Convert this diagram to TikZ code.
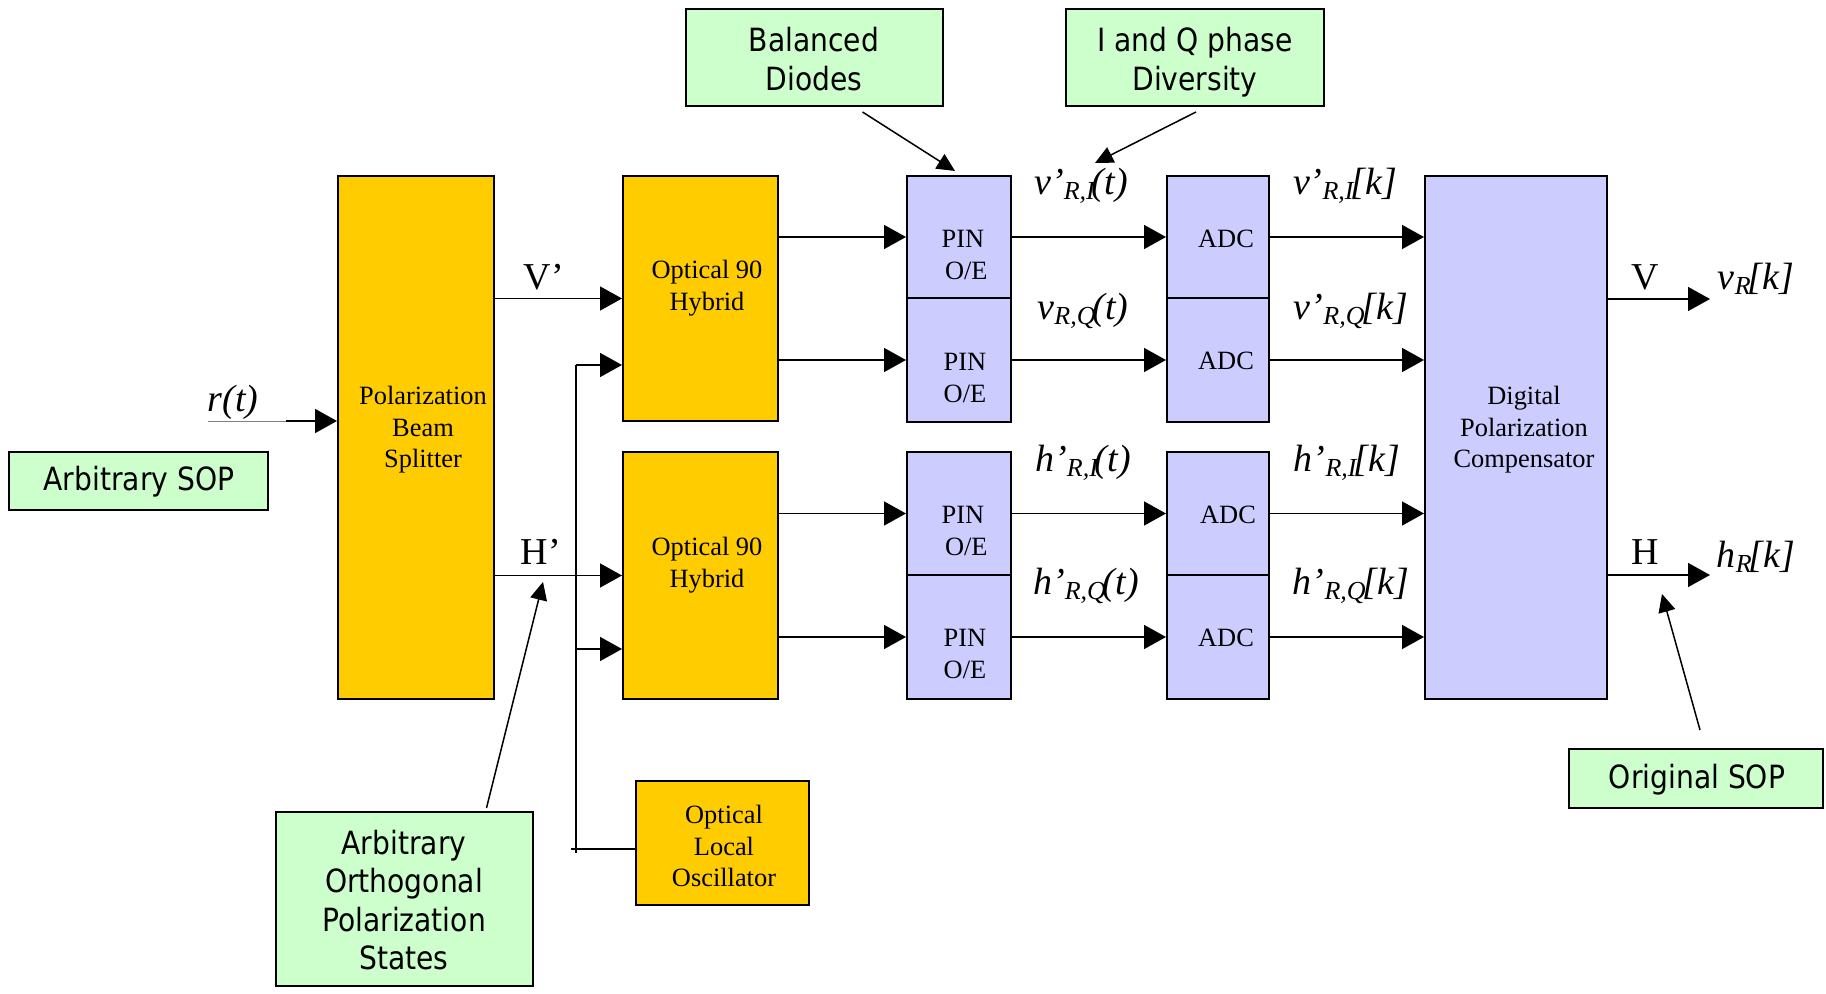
\documentclass[tikz,border=0pt]{standalone}
\usepackage{fontspec}
\setmainfont{Liberation Serif}
\newfontfamily\lab[FakeStretch=0.88]{DejaVu Sans}
\usetikzlibrary{arrows.meta,fit,calc}
\definecolor{ybg}{HTML}{FFCC00}
\definecolor{pbg}{HTML}{CCCCFF}
\definecolor{gbg}{HTML}{CCFFCC}
\newcommand\sg[3]{{\fontsize{19}{19}\selectfont\itshape #1\raisebox{-2.5pt}{\fontsize{13}{13}\selectfont #2}\kern-1.5pt #3}}
\begin{document}
\begin{tikzpicture}[x=0.5pt,y=-0.5pt,
 blk/.style={draw=black, line width=1pt, inner sep=0pt},
 ybox/.style={blk, fill=ybg},
 pbox/.style={blk, fill=pbg},
 gbox/.style={blk, fill=gbg},
 gtxt/.style={font=\lab\fontsize{16}{19.2}\selectfont, align=center, inner sep=0pt},
 txt/.style={font=\fontsize{13.2}{15.7}\selectfont, align=center, inner sep=0pt},
 lbl/.style={inner sep=0pt, font=\fontsize{19}{19}\selectfont},
 arr/.style={line width=0.8pt, -{Triangle[length=11pt,width=12pt]}},
 ptr/.style={line width=0.75pt, -{Triangle[length=9pt,width=8.5pt]}},
 ln/.style={line width=0.8pt}]
\useasboundingbox (0,0) rectangle (1826,994);

% main blocks
\node[ybox, fit={(338,176) (494,699)}] (pbs) {};
\node[ybox, fit={(623,176) (778,421)}] (hyb1) {};
\node[ybox, fit={(623,452) (778,699)}] (hyb2) {};
\node[ybox, fit={(636,781) (809,905)}] (lo) {};
\node[pbox, fit={(907,176) (1011,298)}] (pin1) {};
\node[pbox, fit={(907,298) (1011,422)}] (pin2) {};
\node[pbox, fit={(907,452) (1011,575)}] (pin3) {};
\node[pbox, fit={(907,575) (1011,699)}] (pin4) {};
\node[pbox, fit={(1167,176) (1269,298)}] (adc1) {};
\node[pbox, fit={(1167,298) (1269,422)}] (adc2) {};
\node[pbox, fit={(1167,452) (1269,575)}] (adc3) {};
\node[pbox, fit={(1167,575) (1269,699)}] (adc4) {};
\node[pbox, fit={(1425,176) (1607,699)}] (comp) {};

% texts of blocks
\node[txt] (pbst) at (423,430) {Polarization\\Beam\\Splitter};
\node[txt] (hyb1t) at (707,288) {Optical 90\\Hybrid};
\node[txt] (hyb2t) at (707,565) {Optical 90\\Hybrid};
\node[txt] (lot) at (724,846) {Optical\\Local\\Oscillator};
\node[txt] (pin1t) at (963,255) {PIN\\\ O/E};
\node[txt] (pin2t) at (965,378) {PIN\\O/E};
\node[txt] (pin3t) at (963,531) {PIN\\\ O/E};
\node[txt] (pin4t) at (965,654) {PIN\\O/E};
\node[txt] (adc1t) at (1226,239) {ADC};
\node[txt] (adc2t) at (1226,361) {ADC};
\node[txt] (adc3t) at (1228,515) {ADC};
\node[txt] (adc4t) at (1226,638) {ADC};
\node[txt] (compt) at (1524,430) {Digital\\Polarization\\Compensator};

% green callouts
\node[gbox, fit={(9,452) (268,510)}] (asop) {};
\node[gbox, fit={(276,812) (533,986)}] (aops) {};
\node[gbox, fit={(686,9) (943,106)}] (bd) {};
\node[gbox, fit={(1066,9) (1324,106)}] (iq) {};
\node[gbox, fit={(1569,749) (1823,808)}] (osop) {};
\node[gtxt] (asopt) at (139,482) {Arbitrary SOP};
\node[gtxt] (aopst) at (404,900) {Arbitrary\\Orthogonal\\Polarization\\States};
\node[gtxt] (bdt) at (814,59) {Balanced\\Diodes};
\node[gtxt] (iqt) at (1195,62) {I and Q phase\\Diversity};
\node[gtxt] (osopt) at (1697,780) {Original SOP};

% signal labels
\node[lbl] (rt) at (233,402) {\itshape r(t)};
\node[lbl] (vp) at (544,277) {V’};
\node[lbl] (hp) at (541,552) {H’};
\node[lbl] (vo) at (1645,277) {V};
\node[lbl] (ho) at (1645,552) {H};
\node[lbl] (l1) at (1081,186) {\sg{v’}{R,I}{(t)}};
\node[lbl] (l2) at (1083,311) {\sg{v}{R,Q}{(t)}};
\node[lbl] (l3) at (1083,463) {\sg{h’}{R,I}{(t)}};
\node[lbl] (l4) at (1086,586) {\sg{h’}{R,Q}{(t)}};
\node[lbl] (k1) at (1345,186) {\sg{v’}{R,I}{[k]}};
\node[lbl] (k2) at (1351,311) {\sg{v’}{R,Q}{[k]}};
\node[lbl] (k3) at (1347,463) {\sg{h’}{R,I}{[k]}};
\node[lbl] (k4) at (1351,586) {\sg{h’}{R,Q}{[k]}};
\node[lbl] (vr) at (1756,279) {\sg{v}{R}{[k]}};
\node[lbl] (hr) at (1756,557) {\sg{h}{R}{[k]}};

% input
\coordinate (rin) at (208,421);
\coordinate (rmid) at (286,421);
\draw[gray, line width=0.4pt] (rin) -- (rmid);
\draw[arr] (rmid) -- (rmid -| pbs.west);

% splitter outputs
\draw[arr] (pbs.east |- hyb1.west) -- (hyb1.west);
\draw[arr] (pbs.east |- hyb2.west) -- (hyb2.west);

% local oscillator distribution
\coordinate (lotop) at (576,365);
\coordinate (lomid) at (576,649);
\coordinate (lobot) at (576,853);
\coordinate (lol) at (571,849);
\draw[ln] (lotop) -- (lobot);
\draw[arr] (lotop) -- (lotop -| hyb1.west);
\draw[arr] (lomid) -- (lomid -| hyb2.west);
\draw[ln] (lol) -- (lol -| lo.west);

% hybrids to PIN
\draw[arr] (pin1.west -| hyb1.east) -- (pin1.west);
\draw[arr] (pin2.west -| hyb1.east) -- (pin2.west);
\draw[arr] (pin3.west -| hyb2.east) -- (pin3.west);
\draw[arr] (pin4.west -| hyb2.east) -- (pin4.west);
% PIN to ADC
\draw[arr] (pin1.east) -- (adc1.west);
\draw[arr] (pin2.east) -- (adc2.west);
\draw[arr] (pin3.east) -- (adc3.west);
\draw[arr] (pin4.east) -- (adc4.west);
% ADC to compensator
\draw[arr] (adc1.east) -- (adc1.east -| comp.west);
\draw[arr] (adc2.east) -- (adc2.east -| comp.west);
\draw[arr] (adc3.east) -- (adc3.east -| comp.west);
\draw[arr] (adc4.east) -- (adc4.east -| comp.west);
% outputs
\coordinate (vout) at (1710,299);
\coordinate (hout) at (1710,575);
\draw[arr] (comp.east |- vout) -- (vout);
\draw[arr] (comp.east |- hout) -- (hout);

% pointers
\coordinate (bdtip) at (955,171);
\coordinate (iqtip) at (1095,163);
\coordinate (aotip) at (543,582);
\coordinate (ostip) at (1662,594);
\draw[ptr] ($(bd.south)+(48,5)$) -- (bdtip);
\draw[ptr] ($(iq.south)+(1,5)$) -- (iqtip);
\draw[ptr] ($(aops.north)+(82,-3)$) -- (aotip);
\draw[ptr] ($(osop.north)+(4,-18)$) -- (ostip);
\end{tikzpicture}
\end{document}
